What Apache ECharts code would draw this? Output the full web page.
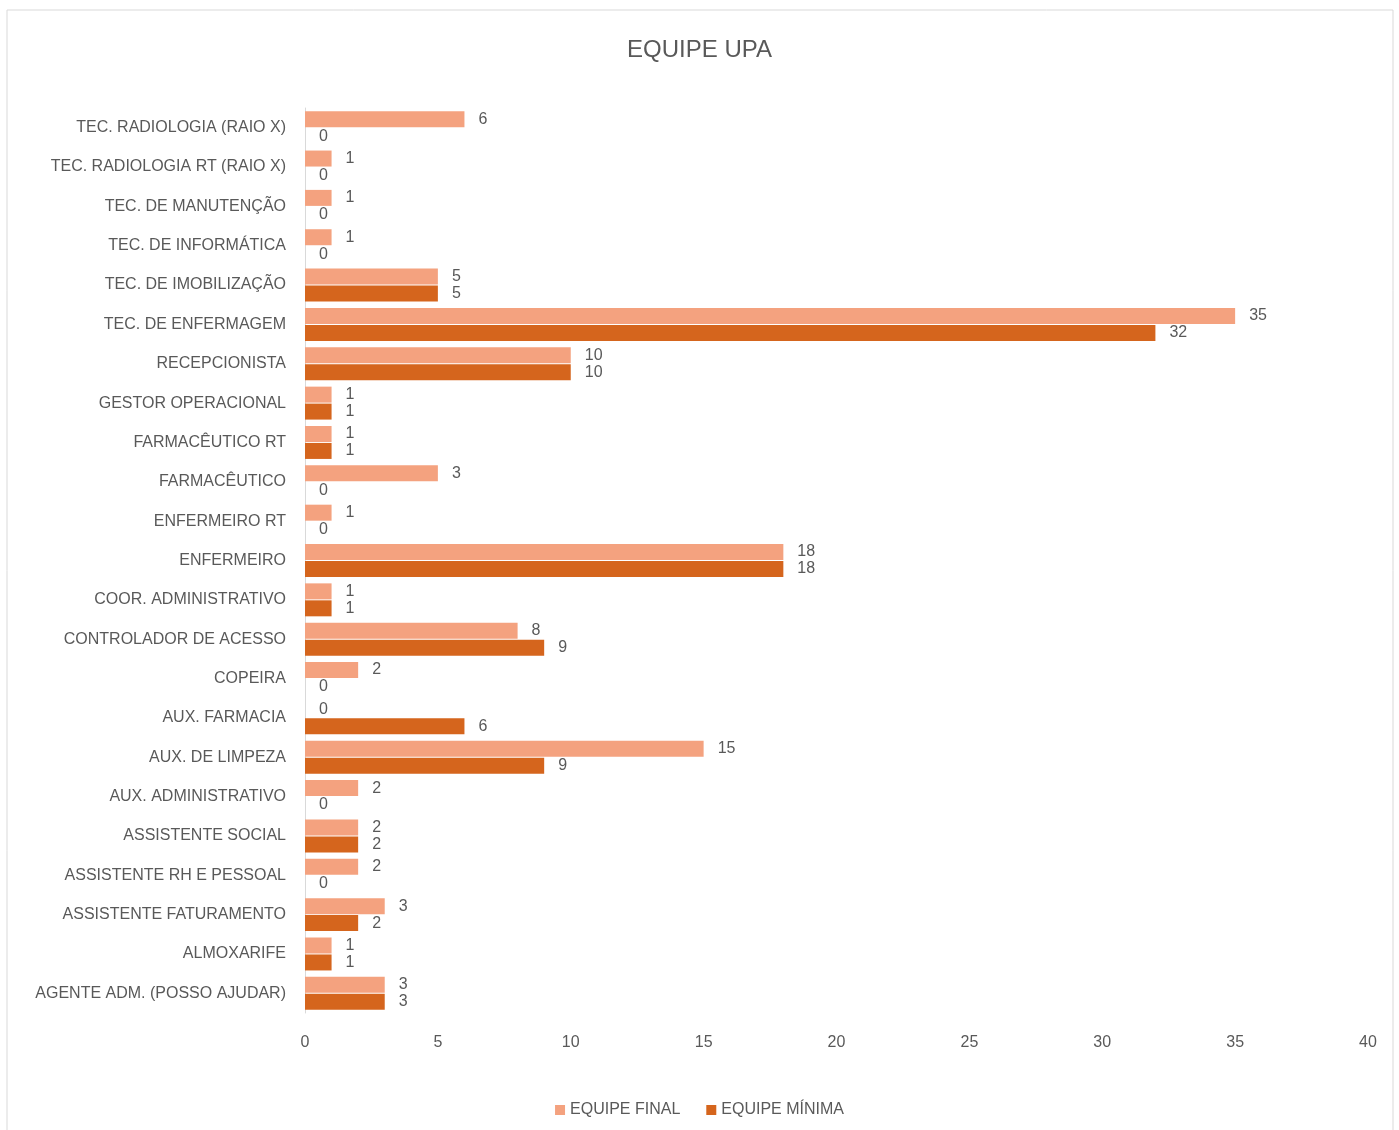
<!DOCTYPE html>
<html>
<head>
<meta charset="utf-8">
<script src="https://cdn.jsdelivr.net/npm/echarts@6/dist/echarts.min.js"></script>
<style>
  html, body { margin: 0; padding: 0; background: #fff; }
  #chart { width: 1399px; height: 1130px; }
</style>
</head>
<body>
<div id="chart"></div>
<script>
// categories, bottom to top (as the y axis runs)
const categories = [
  'AGENTE ADM. (POSSO AJUDAR)', 'ALMOXARIFE', 'ASSISTENTE FATURAMENTO', 'ASSISTENTE RH E PESSOAL',
  'ASSISTENTE SOCIAL', 'AUX. ADMINISTRATIVO', 'AUX. DE LIMPEZA', 'AUX. FARMACIA', 'COPEIRA',
  'CONTROLADOR DE ACESSO', 'COOR. ADMINISTRATIVO', 'ENFERMEIRO', 'ENFERMEIRO RT', 'FARMACÊUTICO',
  'FARMACÊUTICO RT', 'GESTOR OPERACIONAL', 'RECEPCIONISTA', 'TEC. DE ENFERMAGEM',
  'TEC. DE IMOBILIZAÇÃO', 'TEC. DE INFORMÁTICA', 'TEC. DE MANUTENÇÃO', 'TEC. RADIOLOGIA RT (RAIO X)',
  'TEC. RADIOLOGIA (RAIO X)'
]
const equipeFinal = [3, 1, 3, 2, 2, 2, 15, 0, 2, 8, 1, 18, 1, 5, 1, 1, 10, 35, 5, 1, 1, 1, 6]
// the label printed on each bar (FARMACÊUTICO bar is drawn at 5 but labelled 3)
const equipeFinalLabels = [3, 1, 3, 2, 2, 2, 15, 0, 2, 8, 1, 18, 1, 3, 1, 1, 10, 35, 5, 1, 1, 1, 6]
const equipeMinima = [3, 1, 2, 0, 2, 0, 9, 6, 0, 9, 1, 18, 0, 0, 1, 1, 10, 32, 5, 0, 0, 0, 0]
const xTicks = [0, 5, 10, 15, 20, 25, 30, 35, 40]

const textColor = '#595959'
const font = 'Liberation Sans'

const chart = echarts.init(document.getElementById('chart'))
chart.setOption({
  backgroundColor: '#fff',
  textStyle: { fontFamily: font },
  title: {
    text: 'EQUIPE UPA',
    left: 'center',
    top: 33,
    textStyle: { color: textColor, fontSize: 24, fontWeight: 'normal', fontFamily: font }
  },
  legend: {
    bottom: 7,
    left: 'center',
    itemWidth: 10,
    itemHeight: 10,
    itemGap: 26,
    icon: 'rect',
    textStyle: { color: textColor, fontSize: 16, fontFamily: font },
    data: ['EQUIPE FINAL', 'EQUIPE MÍNIMA']
  },
  graphic: [{
    type: 'rect',
    shape: { x: 7, y: 10, width: 1386, height: 1125 },
    style: { fill: 'none', stroke: '#d9d9d9', lineWidth: 1 },
    silent: true
  }],
  grid: { left: 305, right: 31, top: 108, bottom: 117, containLabel: false },
  xAxis: {
    type: 'value',
    min: xTicks[0],
    max: xTicks[xTicks.length - 1],
    interval: 5,
    axisLine: { show: false },
    axisTick: { show: false },
    splitLine: { show: false },
    axisLabel: { color: textColor, fontSize: 16, margin: 22, fontFamily: font }
  },
  yAxis: {
    type: 'category',
    data: categories,
    axisLine: { show: true, lineStyle: { color: '#d9d9d9' } },
    axisTick: { show: false },
    axisLabel: { color: textColor, fontSize: 16, margin: 19, fontFamily: font }
  },
  series: [
    {
      name: 'EQUIPE FINAL',
      type: 'bar',
      data: equipeFinal,
      barWidth: 16,
      barGap: '6%',
      itemStyle: { color: '#F4A27F' },
      label: {
        show: true,
        position: 'right',
        distance: 14,
        color: textColor,
        fontSize: 16,
        fontFamily: font,
        formatter: p => equipeFinalLabels[p.dataIndex]
      }
    },
    {
      name: 'EQUIPE MÍNIMA',
      type: 'bar',
      data: equipeMinima,
      barWidth: 16,
      itemStyle: { color: '#D5651D' },
      label: {
        show: true,
        position: 'right',
        distance: 14,
        color: textColor,
        fontSize: 16,
        fontFamily: font
      }
    }
  ]
})
</script>
</body>
</html>
